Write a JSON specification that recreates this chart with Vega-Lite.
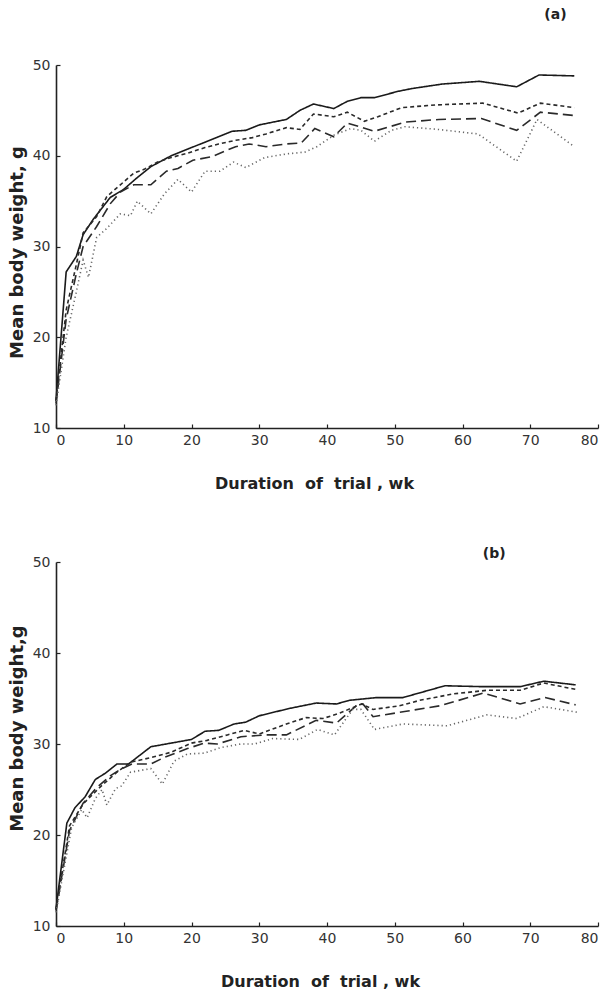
{
  "$schema": "https://vega.github.io/schema/vega-lite/v6.json",
  "background": "white",
  "padding": {"left": 8, "top": 8, "right": 5, "bottom": 0},
  "spacing": 56,
  "config": {
    "view": {"stroke": null},
    "axis": {
      "grid": false,
      "domainColor": "#222",
      "domainWidth": 1.6,
      "tickColor": "#222",
      "tickWidth": 1.2,
      "tickSize": -4,
      "labelFont": "DejaVu Sans",
      "labelFontSize": 14,
      "labelFontWeight": "normal",
      "labelColor": "#333",
      "titleFont": "DejaVu Sans",
      "titleFontWeight": "bold",
      "titleColor": "#222"
    },
    "title": {"font": "DejaVu Sans", "fontWeight": "bold", "fontSize": 14, "color": "#222", "anchor": "end"}
  },
  "datasets": {
    "a": [
      {"series": "s1", "week": 0, "weight": 13.0}, {"series": "s1", "week": 1.5, "weight": 27.2}, {"series": "s1", "week": 3, "weight": 28.9}, {"series": "s1", "week": 4, "weight": 31.3}, {"series": "s1", "week": 5.5, "weight": 33.0}, {"series": "s1", "week": 8, "weight": 35.4}, {"series": "s1", "week": 10, "weight": 36.3}, {"series": "s1", "week": 12, "weight": 37.6}, {"series": "s1", "week": 14, "weight": 38.8}, {"series": "s1", "week": 17, "weight": 40.0}, {"series": "s1", "week": 20, "weight": 40.9}, {"series": "s1", "week": 22, "weight": 41.5}, {"series": "s1", "week": 24, "weight": 42.1}, {"series": "s1", "week": 26, "weight": 42.7}, {"series": "s1", "week": 28, "weight": 42.8}, {"series": "s1", "week": 30, "weight": 43.4}, {"series": "s1", "week": 34, "weight": 44.0}, {"series": "s1", "week": 36, "weight": 45.0}, {"series": "s1", "week": 38, "weight": 45.7}, {"series": "s1", "week": 41, "weight": 45.2}, {"series": "s1", "week": 43, "weight": 46.0}, {"series": "s1", "week": 45, "weight": 46.4}, {"series": "s1", "week": 47, "weight": 46.4}, {"series": "s1", "week": 50.5, "weight": 47.1}, {"series": "s1", "week": 52.5, "weight": 47.4}, {"series": "s1", "week": 57, "weight": 47.9}, {"series": "s1", "week": 62.5, "weight": 48.2}, {"series": "s1", "week": 68, "weight": 47.6}, {"series": "s1", "week": 71.3, "weight": 48.9}, {"series": "s1", "week": 76.5, "weight": 48.8},
      {"series": "s2", "week": 0, "weight": 13.0}, {"series": "s2", "week": 1.5, "weight": 23.0}, {"series": "s2", "week": 3, "weight": 28.0}, {"series": "s2", "week": 4, "weight": 31.5}, {"series": "s2", "week": 6, "weight": 33.3}, {"series": "s2", "week": 7.5, "weight": 35.5}, {"series": "s2", "week": 9.5, "weight": 36.8}, {"series": "s2", "week": 11.5, "weight": 38.1}, {"series": "s2", "week": 13, "weight": 38.5}, {"series": "s2", "week": 15, "weight": 39.3}, {"series": "s2", "week": 17, "weight": 39.8}, {"series": "s2", "week": 19.5, "weight": 40.3}, {"series": "s2", "week": 22, "weight": 40.9}, {"series": "s2", "week": 24, "weight": 41.3}, {"series": "s2", "week": 26.5, "weight": 41.7}, {"series": "s2", "week": 29, "weight": 42.0}, {"series": "s2", "week": 31, "weight": 42.4}, {"series": "s2", "week": 34, "weight": 43.1}, {"series": "s2", "week": 36, "weight": 42.9}, {"series": "s2", "week": 38, "weight": 44.6}, {"series": "s2", "week": 41, "weight": 44.3}, {"series": "s2", "week": 43, "weight": 44.8}, {"series": "s2", "week": 45.5, "weight": 43.8}, {"series": "s2", "week": 47.5, "weight": 44.3}, {"series": "s2", "week": 51, "weight": 45.3}, {"series": "s2", "week": 56, "weight": 45.6}, {"series": "s2", "week": 63, "weight": 45.8}, {"series": "s2", "week": 68.2, "weight": 44.7}, {"series": "s2", "week": 71.5, "weight": 45.8}, {"series": "s2", "week": 76.5, "weight": 45.3},
      {"series": "s3", "week": 0, "weight": 12.7}, {"series": "s3", "week": 1.5, "weight": 22.0}, {"series": "s3", "week": 3, "weight": 27.0}, {"series": "s3", "week": 4, "weight": 30.0}, {"series": "s3", "week": 6, "weight": 32.2}, {"series": "s3", "week": 8, "weight": 34.7}, {"series": "s3", "week": 9.5, "weight": 36.0}, {"series": "s3", "week": 11.5, "weight": 36.8}, {"series": "s3", "week": 14, "weight": 36.8}, {"series": "s3", "week": 16.3, "weight": 38.3}, {"series": "s3", "week": 18, "weight": 38.6}, {"series": "s3", "week": 20.2, "weight": 39.5}, {"series": "s3", "week": 23, "weight": 39.9}, {"series": "s3", "week": 26.5, "weight": 41.0}, {"series": "s3", "week": 28.5, "weight": 41.3}, {"series": "s3", "week": 31, "weight": 41.0}, {"series": "s3", "week": 34, "weight": 41.3}, {"series": "s3", "week": 36.2, "weight": 41.4}, {"series": "s3", "week": 38.2, "weight": 43.0}, {"series": "s3", "week": 41, "weight": 42.1}, {"series": "s3", "week": 43, "weight": 43.6}, {"series": "s3", "week": 47, "weight": 42.7}, {"series": "s3", "week": 51.5, "weight": 43.7}, {"series": "s3", "week": 56.5, "weight": 44.0}, {"series": "s3", "week": 62.8, "weight": 44.1}, {"series": "s3", "week": 68, "weight": 42.8}, {"series": "s3", "week": 71.5, "weight": 44.8}, {"series": "s3", "week": 77, "weight": 44.4},
      {"series": "s4", "week": 0, "weight": 12.5}, {"series": "s4", "week": 1.5, "weight": 20.0}, {"series": "s4", "week": 3, "weight": 25.0}, {"series": "s4", "week": 4, "weight": 28.5}, {"series": "s4", "week": 4.8, "weight": 26.6}, {"series": "s4", "week": 6, "weight": 31.0}, {"series": "s4", "week": 7.5, "weight": 32.0}, {"series": "s4", "week": 9.5, "weight": 33.6}, {"series": "s4", "week": 11, "weight": 33.4}, {"series": "s4", "week": 12, "weight": 35.0}, {"series": "s4", "week": 14, "weight": 33.6}, {"series": "s4", "week": 16, "weight": 35.8}, {"series": "s4", "week": 18, "weight": 37.4}, {"series": "s4", "week": 20, "weight": 36.0}, {"series": "s4", "week": 22, "weight": 38.3}, {"series": "s4", "week": 24.2, "weight": 38.3}, {"series": "s4", "week": 26.2, "weight": 39.3}, {"series": "s4", "week": 28, "weight": 38.7}, {"series": "s4", "week": 30.8, "weight": 39.8}, {"series": "s4", "week": 34, "weight": 40.2}, {"series": "s4", "week": 36.7, "weight": 40.4}, {"series": "s4", "week": 38.5, "weight": 41.0}, {"series": "s4", "week": 41.1, "weight": 42.3}, {"series": "s4", "week": 43.5, "weight": 43.0}, {"series": "s4", "week": 45, "weight": 42.8}, {"series": "s4", "week": 47, "weight": 41.6}, {"series": "s4", "week": 49.5, "weight": 42.8}, {"series": "s4", "week": 51.5, "weight": 43.2}, {"series": "s4", "week": 56.4, "weight": 42.9}, {"series": "s4", "week": 62.3, "weight": 42.4}, {"series": "s4", "week": 68, "weight": 39.4}, {"series": "s4", "week": 71, "weight": 44.0}, {"series": "s4", "week": 76.5, "weight": 41.0}
    ],
    "b": [
      {"series": "s1", "week": 0, "weight": 11.9}, {"series": "s1", "week": 1.6, "weight": 21.3}, {"series": "s1", "week": 2.8, "weight": 23.0}, {"series": "s1", "week": 4.3, "weight": 24.2}, {"series": "s1", "week": 5.8, "weight": 26.1}, {"series": "s1", "week": 7.3, "weight": 26.8}, {"series": "s1", "week": 9, "weight": 27.8}, {"series": "s1", "week": 10.7, "weight": 27.8}, {"series": "s1", "week": 14, "weight": 29.7}, {"series": "s1", "week": 17, "weight": 30.1}, {"series": "s1", "week": 20, "weight": 30.5}, {"series": "s1", "week": 22, "weight": 31.4}, {"series": "s1", "week": 24, "weight": 31.5}, {"series": "s1", "week": 26.3, "weight": 32.2}, {"series": "s1", "week": 28, "weight": 32.4}, {"series": "s1", "week": 30, "weight": 33.1}, {"series": "s1", "week": 34.4, "weight": 33.9}, {"series": "s1", "week": 38.4, "weight": 34.5}, {"series": "s1", "week": 41.4, "weight": 34.4}, {"series": "s1", "week": 43.3, "weight": 34.8}, {"series": "s1", "week": 47.3, "weight": 35.1}, {"series": "s1", "week": 51.2, "weight": 35.1}, {"series": "s1", "week": 57.4, "weight": 36.4}, {"series": "s1", "week": 63, "weight": 36.3}, {"series": "s1", "week": 68.5, "weight": 36.3}, {"series": "s1", "week": 72, "weight": 36.9}, {"series": "s1", "week": 76.7, "weight": 36.5},
      {"series": "s2", "week": 0, "weight": 11.8}, {"series": "s2", "week": 2, "weight": 21.0}, {"series": "s2", "week": 4, "weight": 23.4}, {"series": "s2", "week": 6, "weight": 24.9}, {"series": "s2", "week": 7, "weight": 25.6}, {"series": "s2", "week": 9, "weight": 26.9}, {"series": "s2", "week": 11, "weight": 28.0}, {"series": "s2", "week": 14, "weight": 28.5}, {"series": "s2", "week": 17, "weight": 29.1}, {"series": "s2", "week": 20, "weight": 30.1}, {"series": "s2", "week": 22.3, "weight": 30.4}, {"series": "s2", "week": 25.3, "weight": 31.0}, {"series": "s2", "week": 27.8, "weight": 31.5}, {"series": "s2", "week": 30, "weight": 31.1}, {"series": "s2", "week": 34, "weight": 32.2}, {"series": "s2", "week": 36.9, "weight": 32.9}, {"series": "s2", "week": 39.4, "weight": 32.8}, {"series": "s2", "week": 41.9, "weight": 33.4}, {"series": "s2", "week": 45.1, "weight": 34.4}, {"series": "s2", "week": 46.8, "weight": 33.8}, {"series": "s2", "week": 50.7, "weight": 34.2}, {"series": "s2", "week": 53.7, "weight": 34.8}, {"series": "s2", "week": 58.6, "weight": 35.5}, {"series": "s2", "week": 63.6, "weight": 35.9}, {"series": "s2", "week": 68.5, "weight": 35.9}, {"series": "s2", "week": 72, "weight": 36.7}, {"series": "s2", "week": 76.7, "weight": 36.0},
      {"series": "s3", "week": 0, "weight": 11.7}, {"series": "s3", "week": 2, "weight": 20.5}, {"series": "s3", "week": 4, "weight": 23.5}, {"series": "s3", "week": 6, "weight": 25.2}, {"series": "s3", "week": 8, "weight": 26.5}, {"series": "s3", "week": 9.5, "weight": 27.2}, {"series": "s3", "week": 11.2, "weight": 27.8}, {"series": "s3", "week": 14, "weight": 27.8}, {"series": "s3", "week": 15.9, "weight": 28.5}, {"series": "s3", "week": 19.4, "weight": 29.5}, {"series": "s3", "week": 21.9, "weight": 30.1}, {"series": "s3", "week": 23.8, "weight": 30.0}, {"series": "s3", "week": 27.3, "weight": 30.8}, {"series": "s3", "week": 31, "weight": 31.0}, {"series": "s3", "week": 34, "weight": 31.0}, {"series": "s3", "week": 38.4, "weight": 32.6}, {"series": "s3", "week": 41.4, "weight": 32.3}, {"series": "s3", "week": 44.3, "weight": 34.2}, {"series": "s3", "week": 45.3, "weight": 34.4}, {"series": "s3", "week": 46.8, "weight": 33.0}, {"series": "s3", "week": 51.7, "weight": 33.6}, {"series": "s3", "week": 56.7, "weight": 34.2}, {"series": "s3", "week": 63.1, "weight": 35.6}, {"series": "s3", "week": 68.5, "weight": 34.4}, {"series": "s3", "week": 72.2, "weight": 35.1}, {"series": "s3", "week": 76.7, "weight": 34.3},
      {"series": "s4", "week": 0, "weight": 11.5}, {"series": "s4", "week": 2.3, "weight": 20.8}, {"series": "s4", "week": 3.8, "weight": 22.8}, {"series": "s4", "week": 4.6, "weight": 21.9}, {"series": "s4", "week": 5.8, "weight": 24.0}, {"series": "s4", "week": 6.8, "weight": 25.0}, {"series": "s4", "week": 7.5, "weight": 23.3}, {"series": "s4", "week": 8.8, "weight": 25.1}, {"series": "s4", "week": 9.7, "weight": 25.4}, {"series": "s4", "week": 11, "weight": 26.9}, {"series": "s4", "week": 14, "weight": 27.3}, {"series": "s4", "week": 15.7, "weight": 25.6}, {"series": "s4", "week": 17.4, "weight": 28.1}, {"series": "s4", "week": 19.4, "weight": 28.9}, {"series": "s4", "week": 21.9, "weight": 29.0}, {"series": "s4", "week": 24.3, "weight": 29.6}, {"series": "s4", "week": 27.3, "weight": 30.0}, {"series": "s4", "week": 29.3, "weight": 30.0}, {"series": "s4", "week": 32, "weight": 30.6}, {"series": "s4", "week": 35.9, "weight": 30.5}, {"series": "s4", "week": 38.6, "weight": 31.6}, {"series": "s4", "week": 41.1, "weight": 31.0}, {"series": "s4", "week": 43.8, "weight": 33.8}, {"series": "s4", "week": 45, "weight": 33.8}, {"series": "s4", "week": 47, "weight": 31.6}, {"series": "s4", "week": 51.2, "weight": 32.2}, {"series": "s4", "week": 57.7, "weight": 32.0}, {"series": "s4", "week": 63.6, "weight": 33.2}, {"series": "s4", "week": 68, "weight": 32.8}, {"series": "s4", "week": 72, "weight": 34.1}, {"series": "s4", "week": 76.9, "weight": 33.5}
    ]
  },
  "vconcat": [
    {
      "data": {"name": "a"},
      "width": 542,
      "height": 363,
      "title": {"text": "(a)", "dx": -32, "offset": 36},
      "mark": {"type": "line", "strokeWidth": 1.6, "strokeCap": "butt"},
      "encoding": {
        "x": {"field": "week", "type": "quantitative", "scale": {"domain": [0, 80], "nice": false},
              "axis": {"values": [0, 10, 20, 30, 40, 50, 60, 70, 80], "title": "Duration\u00a0\u00a0of\u00a0\u00a0trial\u00a0, wk", "titleFontSize": 16, "labelPadding": 9, "titlePadding": 28, "titleX": 258}},
        "y": {"field": "weight", "type": "quantitative", "scale": {"domain": [10, 50], "nice": false, "zero": false},
              "axis": {"values": [10, 20, 30, 40, 50], "title": "Mean body weight, g", "titleFontSize": 18, "labelPadding": 10, "titlePadding": 6, "titleY": 187}},
        "detail": {"field": "series"},
        "strokeDash": {"field": "series", "type": "nominal", "legend": null,
                       "scale": {"domain": ["s1", "s2", "s3", "s4"], "range": [[1, 0], [4, 3], [10, 5], [1.2, 3]]}},
        "color": {"field": "series", "type": "nominal", "legend": null,
                  "scale": {"domain": ["s1", "s2", "s3", "s4"], "range": ["#1a1a1a", "#2a2a2a", "#2a2a2a", "#666666"]}}
      }
    },
    {
      "data": {"name": "b"},
      "width": 542,
      "height": 364,
      "title": {"text": "(b)", "dx": -93, "offset": -6},
      "mark": {"type": "line", "strokeWidth": 1.6, "strokeCap": "butt"},
      "encoding": {
        "x": {"field": "week", "type": "quantitative", "scale": {"domain": [0, 80], "nice": false},
              "axis": {"values": [0, 10, 20, 30, 40, 50, 60, 70, 80], "title": "Duration\u00a0\u00a0of\u00a0\u00a0trial\u00a0, wk", "titleFontSize": 16, "labelPadding": 9, "titlePadding": 28, "titleX": 264}},
        "y": {"field": "weight", "type": "quantitative", "scale": {"domain": [10, 50], "nice": false, "zero": false},
              "axis": {"values": [10, 20, 30, 40, 50], "title": "Mean body weight,g", "titleFontSize": 18, "labelPadding": 10, "titlePadding": 6, "titleY": 166}},
        "detail": {"field": "series"},
        "strokeDash": {"field": "series", "type": "nominal", "legend": null,
                       "scale": {"domain": ["s1", "s2", "s3", "s4"], "range": [[1, 0], [4, 3], [10, 5], [1.2, 3]]}},
        "color": {"field": "series", "type": "nominal", "legend": null,
                  "scale": {"domain": ["s1", "s2", "s3", "s4"], "range": ["#1a1a1a", "#2a2a2a", "#2a2a2a", "#666666"]}}
      }
    }
  ]
}
